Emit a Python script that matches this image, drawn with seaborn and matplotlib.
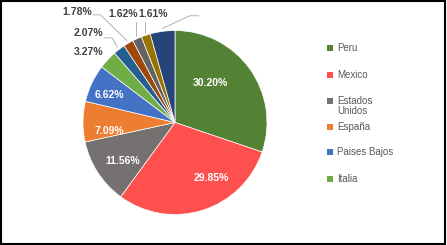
import numpy as np
import matplotlib
matplotlib.use("Agg")
import matplotlib.pyplot as plt
import seaborn as sns
from matplotlib.patches import Rectangle

# datos
paises = ['Peru', 'Mexico', 'Estados\nUnidos', 'España', 'Paises Bajos', 'Italia',
          'Otro 1', 'Otro 2', 'Otro 3', 'Otro 4', 'Otro 5']
porcentajes = [30.20, 29.85, 11.56, 7.09, 6.62, 3.27, 2.07, 1.78, 1.62, 1.61, 4.33]
colores = ['#548235', '#FF5050', '#767171', '#ED7D31', '#4472C4', '#70AD47',
           '#255E91', '#9E480E', '#636363', '#997300', '#264478']
etiquetas = ['30.20%', '29.85%', '11.56%', '7.09%', '6.62%', '3.27%',
             '2.07%', '1.78%', '1.62%', '1.61%', '']
n_leyenda = 6

sns.set_theme(style="white")
plt.rcParams['font.family'] = ['Liberation Sans Narrow', 'Liberation Sans', 'DejaVu Sans']

fig = plt.figure(figsize=(4.47, 2.45), dpi=100)
ax = fig.add_axes([0, 0, 1, 1])
# 1 unidad = 92 px, centro del pastel en (175, 122.5) px
R = 92.0
wedges, _ = ax.pie(porcentajes, colors=colores, startangle=90, counterclock=False,
                   radius=1, center=(0, 0), frame=True,
                   wedgeprops=dict(edgecolor='white', linewidth=0.5))
ax.set_xlim(-175 / R, (447 - 175) / R)
ax.set_ylim(-(245 - 122.5) / R, 122.5 / R)
ax.axis('off')

def medio(w):
    return np.deg2rad((w.theta1 + w.theta2) / 2)

# etiquetas internas (blancas), posiciones tipo Excel
pos_int = [(0.38, 0.43), (0.40, -0.60), (-0.565, -0.42), (-0.71, -0.09), (-0.71, 0.30)]
for i, (x, y) in enumerate(pos_int):
    ax.text(x, y, etiquetas[i], color='white', fontsize=7.5, fontweight='bold',
            ha='center', va='center')

# etiquetas externas con lineas guia
ext = {
    5: ((-0.935, 0.77), None),
    6: ((-0.945, 0.97), [(-0.685, 0.92), (-0.77, 0.92)]),
    7: ((-1.065, 1.20), [(-0.81, 1.17), (-0.89, 1.17)]),
    8: ((-0.565, 1.18), [(-0.42, 1.09)]),
    9: ((-0.24, 1.18), [(-0.33, 1.09)]),
    10: ((0.26, 1.16), [(0.16, 1.16), (0.26, 1.16)]),
}
for i, (pos, guia) in ext.items():
    if etiquetas[i]:
        ax.text(pos[0], pos[1], etiquetas[i], color='#404040', fontsize=7.5,
                fontweight='bold', ha='center', va='center')
    if guia:
        a = medio(wedges[i])
        if i in (8, 9):
            pts = [(guia[0][0], np.sqrt(1.03 ** 2 - guia[0][0] ** 2))] + guia
        else:
            pts = [(1.03 * np.cos(a), 1.03 * np.sin(a))] + guia
        xs, ys = zip(*pts)
        ax.plot(xs, ys, color='#A6A6A6', linewidth=0.6)

# leyenda manual (solo se ven 6 entradas)
y_ley = [48, 75, 101, 127, 152, 179]
for i in range(n_leyenda):
    yp = y_ley[i]
    fig.patches.append(Rectangle((327 / 447, 1 - (yp + 3) / 245), 6 / 447, 6 / 245,
                                 transform=fig.transFigure, facecolor=colores[i],
                                 edgecolor='none'))
    if '\n' in paises[i]:
        fig.text(337 / 447, 1 - (yp - 5) / 245, paises[i], fontsize=7, color='#595959',
                 ha='left', va='top', linespacing=0.95)
    else:
        fig.text(337 / 447, 1 - yp / 245, paises[i], fontsize=7, color='#595959',
                 ha='left', va='center')

fig.patches.append(Rectangle((0.002, 0.004), 0.994, 0.99, transform=fig.transFigure,
                             facecolor='none', edgecolor='black', linewidth=1.5))

fig.savefig('out.png', dpi=100, facecolor='white')
